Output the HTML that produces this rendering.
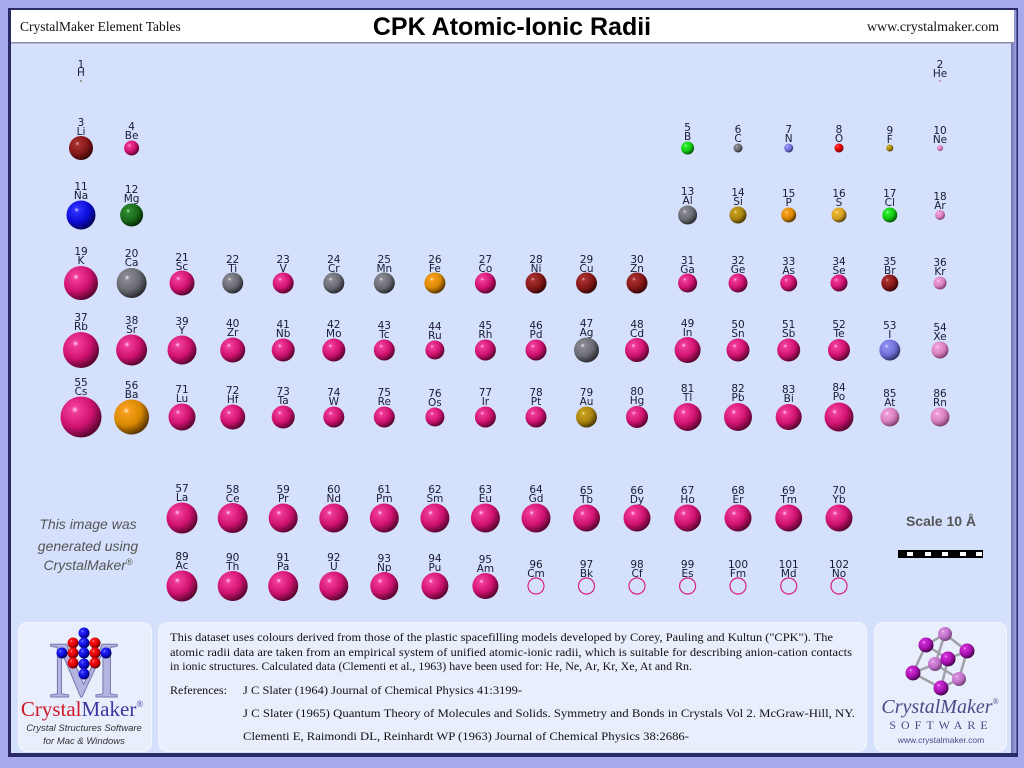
<!DOCTYPE html>
<html><head><meta charset="utf-8"><style>
html,body{margin:0;padding:0;width:1024px;height:768px;overflow:hidden;background:#a9a9ee}
svg{display:block}
.n{font-family:"DejaVu Sans",sans-serif;font-size:10.5px;fill:#1a1a30;text-anchor:middle}
.s{font-family:"Liberation Serif",serif;fill:#111}
</style></head><body>
<svg width="1024" height="768" viewBox="0 0 1024 768" xmlns="http://www.w3.org/2000/svg">
<defs>
<radialGradient id="m" cx="35%" cy="32%" r="70%"><stop offset="0" stop-color="#ffd0f0"/><stop offset="0.12" stop-color="#f03c98"/><stop offset="0.6" stop-color="#d0126f"/><stop offset="1" stop-color="#5a0430"/></radialGradient>
<radialGradient id="pu" cx="35%" cy="32%" r="70%"><stop offset="0" stop-color="#ffd0ff"/><stop offset="0.12" stop-color="#d030d8"/><stop offset="0.6" stop-color="#a810b0"/><stop offset="1" stop-color="#40044a"/></radialGradient>
<radialGradient id="lp" cx="35%" cy="32%" r="70%"><stop offset="0" stop-color="#f8e0f8"/><stop offset="0.12" stop-color="#d890e0"/><stop offset="0.6" stop-color="#c070c8"/><stop offset="1" stop-color="#704078"/></radialGradient>
<radialGradient id="dr" cx="35%" cy="32%" r="70%"><stop offset="0" stop-color="#f0b0b0"/><stop offset="0.12" stop-color="#a83030"/><stop offset="0.6" stop-color="#861818"/><stop offset="1" stop-color="#380606"/></radialGradient>
<radialGradient id="bl" cx="35%" cy="32%" r="70%"><stop offset="0" stop-color="#d0d0ff"/><stop offset="0.12" stop-color="#3030ff"/><stop offset="0.6" stop-color="#0c0cd8"/><stop offset="1" stop-color="#02025a"/></radialGradient>
<radialGradient id="gn" cx="35%" cy="32%" r="70%"><stop offset="0" stop-color="#c0f0c0"/><stop offset="0.12" stop-color="#308a30"/><stop offset="0.6" stop-color="#1a6a1a"/><stop offset="1" stop-color="#062a06"/></radialGradient>
<radialGradient id="lg" cx="35%" cy="32%" r="70%"><stop offset="0" stop-color="#e0ffe0"/><stop offset="0.12" stop-color="#30f030"/><stop offset="0.6" stop-color="#10c810"/><stop offset="1" stop-color="#045204"/></radialGradient>
<radialGradient id="gy" cx="35%" cy="32%" r="70%"><stop offset="0" stop-color="#f0f0f0"/><stop offset="0.12" stop-color="#8a8a92"/><stop offset="0.6" stop-color="#6a6a72"/><stop offset="1" stop-color="#2a2a30"/></radialGradient>
<radialGradient id="bv" cx="35%" cy="32%" r="70%"><stop offset="0" stop-color="#e8e8ff"/><stop offset="0.12" stop-color="#9090f0"/><stop offset="0.6" stop-color="#7070d8"/><stop offset="1" stop-color="#30306a"/></radialGradient>
<radialGradient id="rd" cx="35%" cy="32%" r="70%"><stop offset="0" stop-color="#ffd0d0"/><stop offset="0.12" stop-color="#ff2020"/><stop offset="0.6" stop-color="#dd0000"/><stop offset="1" stop-color="#600000"/></radialGradient>
<radialGradient id="ol" cx="35%" cy="32%" r="70%"><stop offset="0" stop-color="#fff0b0"/><stop offset="0.12" stop-color="#c8a828"/><stop offset="0.6" stop-color="#a8880c"/><stop offset="1" stop-color="#483a02"/></radialGradient>
<radialGradient id="gd" cx="35%" cy="32%" r="70%"><stop offset="0" stop-color="#fff0b0"/><stop offset="0.12" stop-color="#c8a020"/><stop offset="0.6" stop-color="#a88410"/><stop offset="1" stop-color="#4a3804"/></radialGradient>
<radialGradient id="or" cx="35%" cy="32%" r="70%"><stop offset="0" stop-color="#fff0c0"/><stop offset="0.12" stop-color="#f8a020"/><stop offset="0.6" stop-color="#d88800"/><stop offset="1" stop-color="#5a3400"/></radialGradient>
<radialGradient id="sy" cx="35%" cy="32%" r="70%"><stop offset="0" stop-color="#fff4c0"/><stop offset="0.12" stop-color="#f0b838"/><stop offset="0.6" stop-color="#d49e20"/><stop offset="1" stop-color="#5a4008"/></radialGradient>
<radialGradient id="pk" cx="35%" cy="32%" r="70%"><stop offset="0" stop-color="#fff0fa"/><stop offset="0.12" stop-color="#f0a0d8"/><stop offset="0.6" stop-color="#d880c0"/><stop offset="1" stop-color="#804068"/></radialGradient>
<linearGradient id="rb" x1="0" x2="1"><stop offset="0" stop-color="#2a2a70"/><stop offset="1" stop-color="#8a8ae0"/></linearGradient>
</defs>
<rect x="0" y="0" width="1024" height="768" fill="#a9a9ee"/>
<rect x="8" y="8" width="1010" height="749" fill="#2a2a66"/>
<rect x="11" y="10" width="1005" height="743" fill="#d4e0fc"/>
<rect x="1011" y="10" width="6" height="743" fill="url(#rb)" opacity="0.6"/>
<rect x="11" y="10" width="1003" height="32" fill="#fff"/>
<rect x="11" y="42" width="1003" height="1.5" fill="#8a8aa8"/>
<text x="20" y="31" class="s" font-size="13.5">CrystalMaker Element Tables</text>
<text x="512" y="35" font-family="Liberation Sans,sans-serif" font-weight="bold" font-size="25" text-anchor="middle" fill="#000">CPK Atomic-Ionic Radii</text>
<text x="999" y="31" class="s" font-size="14" text-anchor="end">www.crystalmaker.com</text>

<text class="n" x="81" y="68">1</text><text class="n" x="81" y="76">H</text><circle cx="81" cy="81" r="1.2" fill="#999"/>
<text class="n" x="940" y="68">2</text><text class="n" x="940" y="77">He</text><circle cx="940" cy="81" r="1.2" fill="#c8a0c8"/>
<g>
<text class="n" x="81" y="126">3</text><text class="n" x="81" y="135">Li</text><circle cx="81" cy="148" r="12" fill="url(#dr)"/>
<text class="n" x="131.6" y="130">4</text><text class="n" x="131.6" y="139">Be</text><circle cx="131.6" cy="148" r="7.5" fill="url(#m)"/>
<text class="n" x="687.6" y="131">5</text><text class="n" x="687.6" y="140">B</text><circle cx="687.6" cy="148" r="6.5" fill="url(#lg)"/>
<text class="n" x="738" y="133">6</text><text class="n" x="738" y="142">C</text><circle cx="738" cy="148" r="4.5" fill="url(#gy)"/>
<text class="n" x="788.7" y="133">7</text><text class="n" x="788.7" y="142">N</text><circle cx="788.7" cy="148" r="4.5" fill="url(#bv)"/>
<text class="n" x="839" y="133">8</text><text class="n" x="839" y="142">O</text><circle cx="839" cy="148" r="4.5" fill="url(#rd)"/>
<text class="n" x="889.8" y="134">9</text><text class="n" x="889.8" y="143">F</text><circle cx="889.8" cy="148" r="3.5" fill="url(#ol)"/>
<text class="n" x="940" y="134">10</text><text class="n" x="940" y="143">Ne</text><circle cx="940" cy="148" r="3" fill="url(#pk)"/>
</g>
<g>
<text class="n" x="81" y="190">11</text><text class="n" x="81" y="199">Na</text><circle cx="81" cy="215" r="14.5" fill="url(#bl)"/>
<text class="n" x="131.6" y="193">12</text><text class="n" x="131.6" y="202">Mg</text><circle cx="131.6" cy="215" r="11.5" fill="url(#gn)"/>
<text class="n" x="687.6" y="195">13</text><text class="n" x="687.6" y="204">Al</text><circle cx="687.6" cy="215" r="9.5" fill="url(#gy)"/>
<text class="n" x="738" y="196">14</text><text class="n" x="738" y="205">Si</text><circle cx="738" cy="215" r="8.5" fill="url(#gd)"/>
<text class="n" x="788.7" y="197">15</text><text class="n" x="788.7" y="206">P</text><circle cx="788.7" cy="215" r="7.5" fill="url(#or)"/>
<text class="n" x="839" y="197">16</text><text class="n" x="839" y="206">S</text><circle cx="839" cy="215" r="7.5" fill="url(#sy)"/>
<text class="n" x="889.8" y="197">17</text><text class="n" x="889.8" y="206">Cl</text><circle cx="889.8" cy="215" r="7.5" fill="url(#lg)"/>
<text class="n" x="940" y="200">18</text><text class="n" x="940" y="209">Ar</text><circle cx="940" cy="215" r="5" fill="url(#pk)"/>
</g>
<g>
<text class="n" x="81" y="255">19</text><text class="n" x="81" y="264">K</text><circle cx="81" cy="283" r="17" fill="url(#m)"/>
<text class="n" x="131.6" y="257">20</text><text class="n" x="131.6" y="266">Ca</text><circle cx="131.6" cy="283" r="15" fill="url(#gy)"/>
<text class="n" x="182" y="261">21</text><text class="n" x="182" y="270">Sc</text><circle cx="182" cy="283" r="12.5" fill="url(#m)"/>
<text class="n" x="232.7" y="263">22</text><text class="n" x="232.7" y="272">Ti</text><circle cx="232.7" cy="283" r="10.5" fill="url(#gy)"/>
<text class="n" x="283.2" y="263">23</text><text class="n" x="283.2" y="272">V</text><circle cx="283.2" cy="283" r="10.5" fill="url(#m)"/>
<text class="n" x="333.8" y="263">24</text><text class="n" x="333.8" y="272">Cr</text><circle cx="333.8" cy="283" r="10.5" fill="url(#gy)"/>
<text class="n" x="384.3" y="263">25</text><text class="n" x="384.3" y="272">Mn</text><circle cx="384.3" cy="283" r="10.5" fill="url(#gy)"/>
<text class="n" x="434.9" y="263">26</text><text class="n" x="434.9" y="272">Fe</text><circle cx="434.9" cy="283" r="10.5" fill="url(#or)"/>
<text class="n" x="485.4" y="263">27</text><text class="n" x="485.4" y="272">Co</text><circle cx="485.4" cy="283" r="10.5" fill="url(#m)"/>
<text class="n" x="536" y="263">28</text><text class="n" x="536" y="272">Ni</text><circle cx="536" cy="283" r="10.5" fill="url(#dr)"/>
<text class="n" x="586.5" y="263">29</text><text class="n" x="586.5" y="272">Cu</text><circle cx="586.5" cy="283" r="10.5" fill="url(#dr)"/>
<text class="n" x="637" y="263">30</text><text class="n" x="637" y="272">Zn</text><circle cx="637" cy="283" r="10.5" fill="url(#dr)"/>
<text class="n" x="687.6" y="264">31</text><text class="n" x="687.6" y="273">Ga</text><circle cx="687.6" cy="283" r="9.5" fill="url(#m)"/>
<text class="n" x="738" y="264">32</text><text class="n" x="738" y="273">Ge</text><circle cx="738" cy="283" r="9.5" fill="url(#m)"/>
<text class="n" x="788.7" y="265">33</text><text class="n" x="788.7" y="274">As</text><circle cx="788.7" cy="283" r="8.5" fill="url(#m)"/>
<text class="n" x="839" y="265">34</text><text class="n" x="839" y="274">Se</text><circle cx="839" cy="283" r="8.5" fill="url(#m)"/>
<text class="n" x="889.8" y="265">35</text><text class="n" x="889.8" y="274">Br</text><circle cx="889.8" cy="283" r="8.5" fill="url(#dr)"/>
<text class="n" x="940" y="266">36</text><text class="n" x="940" y="275">Kr</text><circle cx="940" cy="283" r="6.5" fill="url(#pk)"/>
</g>
<g>
<text class="n" x="81" y="321">37</text><text class="n" x="81" y="330">Rb</text><circle cx="81" cy="350" r="18" fill="url(#m)"/>
<text class="n" x="131.6" y="324">38</text><text class="n" x="131.6" y="333">Sr</text><circle cx="131.6" cy="350" r="15.5" fill="url(#m)"/>
<text class="n" x="182" y="325">39</text><text class="n" x="182" y="334">Y</text><circle cx="182" cy="350" r="14.5" fill="url(#m)"/>
<text class="n" x="232.7" y="327">40</text><text class="n" x="232.7" y="336">Zr</text><circle cx="232.7" cy="350" r="12.5" fill="url(#m)"/>
<text class="n" x="283.2" y="328">41</text><text class="n" x="283.2" y="337">Nb</text><circle cx="283.2" cy="350" r="11.5" fill="url(#m)"/>
<text class="n" x="333.8" y="328">42</text><text class="n" x="333.8" y="337">Mo</text><circle cx="333.8" cy="350" r="11.5" fill="url(#m)"/>
<text class="n" x="384.3" y="329">43</text><text class="n" x="384.3" y="338">Tc</text><circle cx="384.3" cy="350" r="10.5" fill="url(#m)"/>
<text class="n" x="434.9" y="330">44</text><text class="n" x="434.9" y="339">Ru</text><circle cx="434.9" cy="350" r="9.5" fill="url(#m)"/>
<text class="n" x="485.4" y="329">45</text><text class="n" x="485.4" y="338">Rh</text><circle cx="485.4" cy="350" r="10.5" fill="url(#m)"/>
<text class="n" x="536" y="329">46</text><text class="n" x="536" y="338">Pd</text><circle cx="536" cy="350" r="10.5" fill="url(#m)"/>
<text class="n" x="586.5" y="327">47</text><text class="n" x="586.5" y="336">Ag</text><circle cx="586.5" cy="350" r="12.5" fill="url(#gy)"/>
<text class="n" x="637" y="328">48</text><text class="n" x="637" y="337">Cd</text><circle cx="637" cy="350" r="12" fill="url(#m)"/>
<text class="n" x="687.6" y="327">49</text><text class="n" x="687.6" y="336">In</text><circle cx="687.6" cy="350" r="13" fill="url(#m)"/>
<text class="n" x="738" y="328">50</text><text class="n" x="738" y="337">Sn</text><circle cx="738" cy="350" r="11.5" fill="url(#m)"/>
<text class="n" x="788.7" y="328">51</text><text class="n" x="788.7" y="337">Sb</text><circle cx="788.7" cy="350" r="11.5" fill="url(#m)"/>
<text class="n" x="839" y="328">52</text><text class="n" x="839" y="337">Te</text><circle cx="839" cy="350" r="11" fill="url(#m)"/>
<text class="n" x="889.8" y="329">53</text><text class="n" x="889.8" y="338">I</text><circle cx="889.8" cy="350" r="10.5" fill="url(#bv)"/>
<text class="n" x="940" y="331">54</text><text class="n" x="940" y="340">Xe</text><circle cx="940" cy="350" r="8.5" fill="url(#pk)"/>
</g>
<g>
<text class="n" x="81" y="386">55</text><text class="n" x="81" y="395">Cs</text><circle cx="81" cy="417" r="20.5" fill="url(#m)"/>
<text class="n" x="131.6" y="389">56</text><text class="n" x="131.6" y="398">Ba</text><circle cx="131.6" cy="417" r="17.5" fill="url(#or)"/>
<text class="n" x="182" y="393">71</text><text class="n" x="182" y="402">Lu</text><circle cx="182" cy="417" r="13.5" fill="url(#m)"/>
<text class="n" x="232.7" y="394">72</text><text class="n" x="232.7" y="403">Hf</text><circle cx="232.7" cy="417" r="12.5" fill="url(#m)"/>
<text class="n" x="283.2" y="395">73</text><text class="n" x="283.2" y="404">Ta</text><circle cx="283.2" cy="417" r="11.5" fill="url(#m)"/>
<text class="n" x="333.8" y="396">74</text><text class="n" x="333.8" y="405">W</text><circle cx="333.8" cy="417" r="10.5" fill="url(#m)"/>
<text class="n" x="384.3" y="396">75</text><text class="n" x="384.3" y="405">Re</text><circle cx="384.3" cy="417" r="10.5" fill="url(#m)"/>
<text class="n" x="434.9" y="397">76</text><text class="n" x="434.9" y="406">Os</text><circle cx="434.9" cy="417" r="9.5" fill="url(#m)"/>
<text class="n" x="485.4" y="396">77</text><text class="n" x="485.4" y="405">Ir</text><circle cx="485.4" cy="417" r="10.5" fill="url(#m)"/>
<text class="n" x="536" y="396">78</text><text class="n" x="536" y="405">Pt</text><circle cx="536" cy="417" r="10.5" fill="url(#m)"/>
<text class="n" x="586.5" y="396">79</text><text class="n" x="586.5" y="405">Au</text><circle cx="586.5" cy="417" r="10.5" fill="url(#gd)"/>
<text class="n" x="637" y="395">80</text><text class="n" x="637" y="404">Hg</text><circle cx="637" cy="417" r="11" fill="url(#m)"/>
<text class="n" x="687.6" y="392">81</text><text class="n" x="687.6" y="401">Tl</text><circle cx="687.6" cy="417" r="14" fill="url(#m)"/>
<text class="n" x="738" y="392">82</text><text class="n" x="738" y="401">Pb</text><circle cx="738" cy="417" r="14" fill="url(#m)"/>
<text class="n" x="788.7" y="393">83</text><text class="n" x="788.7" y="402">Bi</text><circle cx="788.7" cy="417" r="13" fill="url(#m)"/>
<text class="n" x="839" y="391">84</text><text class="n" x="839" y="400">Po</text><circle cx="839" cy="417" r="14.5" fill="url(#m)"/>
<text class="n" x="889.8" y="397">85</text><text class="n" x="889.8" y="406">At</text><circle cx="889.8" cy="417" r="9.5" fill="url(#pk)"/>
<text class="n" x="940" y="397">86</text><text class="n" x="940" y="406">Rn</text><circle cx="940" cy="417" r="9.5" fill="url(#pk)"/>
</g>
<g>
<text class="n" x="182" y="492">57</text><text class="n" x="182" y="501">La</text><circle cx="182" cy="518" r="15.5" fill="url(#m)"/>
<text class="n" x="232.7" y="493">58</text><text class="n" x="232.7" y="502">Ce</text><circle cx="232.7" cy="518" r="15" fill="url(#m)"/>
<text class="n" x="283.2" y="493">59</text><text class="n" x="283.2" y="502">Pr</text><circle cx="283.2" cy="518" r="14.5" fill="url(#m)"/>
<text class="n" x="333.8" y="493">60</text><text class="n" x="333.8" y="502">Nd</text><circle cx="333.8" cy="518" r="14.5" fill="url(#m)"/>
<text class="n" x="384.3" y="493">61</text><text class="n" x="384.3" y="502">Pm</text><circle cx="384.3" cy="518" r="14.5" fill="url(#m)"/>
<text class="n" x="434.9" y="493">62</text><text class="n" x="434.9" y="502">Sm</text><circle cx="434.9" cy="518" r="14.5" fill="url(#m)"/>
<text class="n" x="485.4" y="493">63</text><text class="n" x="485.4" y="502">Eu</text><circle cx="485.4" cy="518" r="14.5" fill="url(#m)"/>
<text class="n" x="536" y="493">64</text><text class="n" x="536" y="502">Gd</text><circle cx="536" cy="518" r="14.5" fill="url(#m)"/>
<text class="n" x="586.5" y="494">65</text><text class="n" x="586.5" y="503">Tb</text><circle cx="586.5" cy="518" r="13.5" fill="url(#m)"/>
<text class="n" x="637" y="494">66</text><text class="n" x="637" y="503">Dy</text><circle cx="637" cy="518" r="13.5" fill="url(#m)"/>
<text class="n" x="687.6" y="494">67</text><text class="n" x="687.6" y="503">Ho</text><circle cx="687.6" cy="518" r="13.5" fill="url(#m)"/>
<text class="n" x="738" y="494">68</text><text class="n" x="738" y="503">Er</text><circle cx="738" cy="518" r="13.5" fill="url(#m)"/>
<text class="n" x="788.7" y="494">69</text><text class="n" x="788.7" y="503">Tm</text><circle cx="788.7" cy="518" r="13.5" fill="url(#m)"/>
<text class="n" x="839" y="494">70</text><text class="n" x="839" y="503">Yb</text><circle cx="839" cy="518" r="13.5" fill="url(#m)"/>
</g>
<g>
<text class="n" x="182" y="560">89</text><text class="n" x="182" y="569">Ac</text><circle cx="182" cy="586" r="15.5" fill="url(#m)"/>
<text class="n" x="232.7" y="561">90</text><text class="n" x="232.7" y="570">Th</text><circle cx="232.7" cy="586" r="15" fill="url(#m)"/>
<text class="n" x="283.2" y="561">91</text><text class="n" x="283.2" y="570">Pa</text><circle cx="283.2" cy="586" r="15" fill="url(#m)"/>
<text class="n" x="333.8" y="561">92</text><text class="n" x="333.8" y="570">U</text><circle cx="333.8" cy="586" r="14.5" fill="url(#m)"/>
<text class="n" x="384.3" y="562">93</text><text class="n" x="384.3" y="571">Np</text><circle cx="384.3" cy="586" r="14" fill="url(#m)"/>
<text class="n" x="434.9" y="562">94</text><text class="n" x="434.9" y="571">Pu</text><circle cx="434.9" cy="586" r="13.5" fill="url(#m)"/>
<text class="n" x="485.4" y="563">95</text><text class="n" x="485.4" y="572">Am</text><circle cx="485.4" cy="586" r="13" fill="url(#m)"/>
<g fill="none" stroke="#d8207e" stroke-width="1.2">
<circle cx="536" cy="586" r="8"/><circle cx="586.5" cy="586" r="8"/><circle cx="637" cy="586" r="8"/><circle cx="687.6" cy="586" r="8"/><circle cx="738" cy="586" r="8"/><circle cx="788.7" cy="586" r="8"/><circle cx="839" cy="586" r="8"/>
</g>
<text class="n" x="536" y="568">96</text><text class="n" x="536" y="577">Cm</text>
<text class="n" x="586.5" y="568">97</text><text class="n" x="586.5" y="577">Bk</text>
<text class="n" x="637" y="568">98</text><text class="n" x="637" y="577">Cf</text>
<text class="n" x="687.6" y="568">99</text><text class="n" x="687.6" y="577">Es</text>
<text class="n" x="738" y="568">100</text><text class="n" x="738" y="577">Fm</text>
<text class="n" x="788.7" y="568">101</text><text class="n" x="788.7" y="577">Md</text>
<text class="n" x="839" y="568">102</text><text class="n" x="839" y="577">No</text>
</g>

<g font-family="Liberation Sans,sans-serif" font-style="italic" font-size="14" fill="#555" text-anchor="middle">
<text x="88" y="529">This image was</text>
<text x="88" y="551">generated using</text>
<text x="88" y="570">CrystalMaker<tspan font-size="9" dy="-5">®</tspan></text>
</g>
<text x="941" y="526" font-family="Liberation Sans,sans-serif" font-weight="bold" font-size="14" fill="#555" text-anchor="middle">Scale 10 Å</text>
<rect x="898" y="550" width="85" height="8" fill="#000"/>
<g fill="#fff"><rect x="907" y="552" width="6" height="4"/><rect x="925" y="552" width="6" height="4"/><rect x="942" y="552" width="6" height="4"/><rect x="960" y="552" width="6" height="4"/><rect x="976" y="552" width="6" height="4"/></g>

<g fill="#e8eefc" stroke="#f4f7ff" stroke-width="1">
<rect x="18.5" y="622.5" width="133" height="129" rx="9"/>
<rect x="158.5" y="622.5" width="708" height="129" rx="9"/>
<rect x="874.5" y="622.5" width="132" height="129" rx="9"/>
</g>
<g class="s" font-size="12" fill="#1a1a1a">
<text x="170" y="641" textLength="663" lengthAdjust="spacingAndGlyphs">This dataset uses colours derived from those of the plastic spacefilling models developed by Corey, Pauling and Kultun ("CPK"). The</text>
<text x="170" y="656" textLength="682" lengthAdjust="spacingAndGlyphs">atomic radii data are taken from an empirical system of unified atomic-ionic radii, which is suitable for describing anion-cation contacts</text>
<text x="170" y="670" textLength="522" lengthAdjust="spacingAndGlyphs">in ionic structures. Calculated data (Clementi et al., 1963) have been used for: He, Ne, Ar, Kr, Xe, At and Rn.</text>
<text x="170" y="694" textLength="57" lengthAdjust="spacingAndGlyphs">References:</text>
<text x="243" y="694" textLength="279" lengthAdjust="spacingAndGlyphs">J C Slater (1964) Journal of Chemical Physics 41:3199-</text>
<text x="243" y="717" textLength="612" lengthAdjust="spacingAndGlyphs">J C Slater (1965) Quantum Theory of Molecules and Solids. Symmetry and Bonds in Crystals Vol 2. McGraw-Hill, NY.</text>
<text x="243" y="740" textLength="446" lengthAdjust="spacingAndGlyphs">Clementi E, Raimondi DL, Reinhardt WP (1963) Journal of Chemical Physics 38:2686-</text>
</g>

<text x="84" y="697" text-anchor="middle" font-family="Liberation Serif,serif" font-size="80" fill="#b4b4e0" stroke="#7878b0" stroke-width="1">M</text>
<g>
<circle cx="84" cy="633" r="5.5" fill="url(#bl)"/>
<circle cx="73" cy="643" r="5.5" fill="url(#rd)"/><circle cx="95" cy="643" r="5.5" fill="url(#rd)"/>
<circle cx="84" cy="643" r="5.5" fill="url(#bl)"/>
<circle cx="62" cy="653" r="5.5" fill="url(#bl)"/><circle cx="106" cy="653" r="5.5" fill="url(#bl)"/>
<circle cx="73" cy="653" r="5.5" fill="url(#rd)"/><circle cx="95" cy="653" r="5.5" fill="url(#rd)"/><circle cx="84" cy="653" r="5.5" fill="url(#bl)"/>
<circle cx="73" cy="663" r="5.5" fill="url(#rd)"/><circle cx="95" cy="663" r="5.5" fill="url(#rd)"/><circle cx="84" cy="664" r="5.5" fill="url(#bl)"/>
<circle cx="84" cy="674" r="5.5" fill="url(#bl)"/>
</g>
<text x="82" y="716" text-anchor="middle" font-family="Liberation Serif,serif" font-size="21"><tspan fill="#d01828">Crystal</tspan><tspan fill="#3838a0">Maker</tspan><tspan font-size="9" dy="-9" fill="#3838a0">®</tspan></text>
<g font-family="Liberation Sans,sans-serif" font-style="italic" font-size="9.5" fill="#333" text-anchor="middle">
<text x="84" y="731">Crystal Structures Software</text>
<text x="84" y="744">for Mac &amp; Windows</text>
</g>

<g stroke="#a0a0a8" stroke-width="2.5" fill="none">
<path d="M945 634 L926 645 L913 673 L941 688 L959 679 L967 651 Z"/>
<path d="M926 645 L948 659 L967 651 M948 659 L941 688 M945 634 L935 664 L913 673 M935 664 L959 679"/>
</g>
<circle cx="945" cy="634" r="7" fill="url(#lp)"/>
<circle cx="935" cy="664" r="7" fill="url(#lp)"/>
<circle cx="959" cy="679" r="7" fill="url(#lp)"/>
<circle cx="926" cy="645" r="7.5" fill="url(#pu)"/>
<circle cx="967" cy="651" r="7.5" fill="url(#pu)"/>
<circle cx="948" cy="659" r="7.5" fill="url(#pu)"/>
<circle cx="913" cy="673" r="7.5" fill="url(#pu)"/>
<circle cx="941" cy="688" r="7.5" fill="url(#pu)"/>
<text x="940" y="713" text-anchor="middle" font-family="Liberation Serif,serif" font-style="italic" font-size="20" fill="#4a4a8a">CrystalMaker<tspan font-size="8" dy="-9">®</tspan></text>
<text x="941" y="729" text-anchor="middle" font-family="Liberation Serif,serif" font-size="12" letter-spacing="5" fill="#4a4a8a">SOFTWARE</text>
<text x="941" y="743" text-anchor="middle" font-family="Liberation Sans,sans-serif" font-size="8.5" fill="#4a4a8a">www.crystalmaker.com</text>
</svg>
</body></html>
